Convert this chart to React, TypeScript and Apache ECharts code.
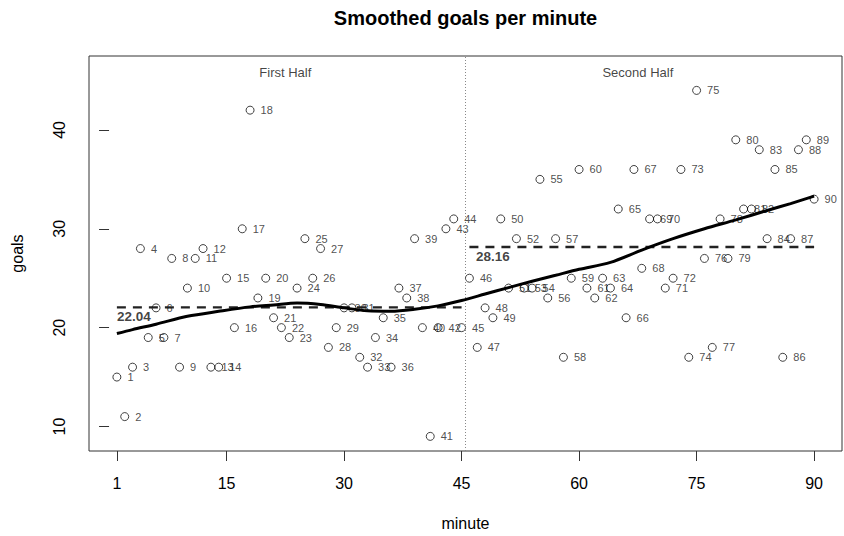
import { useEffect, useRef } from "react";
import * as echarts from "echarts";

// minute of play (x) and goals scored in that minute (y)
const minutes = [
  1, 2, 3, 4, 5, 6, 7, 8, 9, 10, 11, 12, 13, 14, 15, 16, 17, 18, 19, 20,
  21, 22, 23, 24, 25, 26, 27, 28, 29, 30, 31, 32, 33, 34, 35, 36, 37, 38, 39, 40,
  41, 42, 43, 44, 45, 46, 47, 48, 49, 50, 51, 52, 53, 54, 55, 56, 57, 58, 59, 60,
  61, 62, 63, 64, 65, 66, 67, 68, 69, 70, 71, 72, 73, 74, 75, 76, 77, 78, 79, 80,
  81, 82, 83, 84, 85, 86, 87, 88, 89, 90,
];
const goals = [
  15, 11, 16, 28, 19, 22, 19, 27, 16, 24, 27, 28, 16, 16, 25, 20, 30, 42, 23, 25,
  21, 20, 19, 24, 29, 25, 28, 18, 20, 22, 22, 17, 16, 19, 21, 16, 24, 23, 29, 20,
  9, 20, 30, 31, 20, 25, 18, 22, 21, 31, 24, 29, 24, 24, 35, 23, 29, 17, 25, 36,
  24, 23, 25, 24, 32, 21, 36, 26, 31, 31, 24, 25, 36, 17, 44, 27, 18, 31, 27, 39,
  32, 32, 38, 29, 36, 17, 29, 38, 39, 33,
];

// smoothed curve
const smoothMinutes = [1, 3, 6, 10, 14, 18, 21, 24, 27, 30, 33, 36, 39, 42, 45, 48, 51, 54, 57, 60, 64, 68, 72, 76, 80, 84, 87, 90];
const smoothGoals = [19.4, 19.8, 20.35, 21.15, 21.65, 22.1, 22.3, 22.5, 22.35, 22.0, 21.7, 21.65, 21.85, 22.2, 22.75, 23.4, 24.05, 24.7, 25.3, 25.9, 26.6, 27.85, 29.0, 30.0, 30.9, 31.85, 32.55, 33.3];

const xTicks = [1, 15, 30, 45, 60, 75, 90];
const yTicks = [10, 20, 30, 40];
const halfNames = ["First Half", "Second Half"];
const halfStart = [1, 46];
const halfEnd = [45, 90];
const halfBreak = 45.5;

const FONT = "'Liberation Sans', Arial, sans-serif";

export default function App() {
  const ref = useRef<HTMLDivElement>(null);

  useEffect(() => {
    if (!ref.current) return;
    const chart = echarts.init(ref.current, undefined, { renderer: "svg" });

    const xMin = -2.56, xMax = 93.56, yMin = 7.52, yMax = 47.48;

    const means = halfStart.map((s, i) => {
      const vals = goals.filter((_, k) => minutes[k] >= s && minutes[k] <= halfEnd[i]);
      return vals.reduce((a, b) => a + b, 0) / vals.length;
    });

    const points = minutes.map((m, i) => [m, goals[i]]);
    const smooth = smoothMinutes.map((m, i) => [m, smoothGoals[i]]);
    const halfMid = halfStart.map((s, i) => (s - 1 + halfEnd[i]) / 2);
    const meanLabelX = [1, 46.85];

    const option: any = {
      animation: false,
      backgroundColor: "#fff",
      textStyle: { fontFamily: FONT },
      grid: {
        left: 89, top: 56, width: 753, height: 396,
        show: true, borderColor: "#333", borderWidth: 1,
      },
      graphic: [
        {
          type: "text", x: 465.5, y: 18,
          style: {
            text: "Smoothed goals per minute", align: "center", verticalAlign: "middle",
            font: `bold 20px ${FONT}`, fill: "#000",
          },
        },
      ],
      xAxis: {
        type: "value", min: xMin, max: xMax,
        axisLine: { show: false },
        splitLine: { show: false },
        axisTick: { show: true, length: 10, lineStyle: { color: "#333" }, customValues: xTicks },
        axisLabel: { customValues: xTicks, fontSize: 16, margin: 24, color: "#000", fontFamily: FONT },
        name: "minute", nameLocation: "middle", nameGap: 64,
        nameTextStyle: { fontSize: 16, color: "#000", fontFamily: FONT },
      },
      yAxis: {
        type: "value", min: yMin, max: yMax,
        axisLine: { show: false },
        splitLine: { show: false },
        axisTick: { show: true, length: 10, lineStyle: { color: "#333" }, customValues: yTicks },
        axisLabel: { customValues: yTicks, fontSize: 16, margin: 22, rotate: 90, color: "#000", fontFamily: FONT },
        name: "goals", nameLocation: "middle", nameGap: 64, nameRotate: 90,
        nameTextStyle: { fontSize: 16, color: "#000", fontFamily: FONT },
      },
      series: [
        {
          type: "line", data: [[halfBreak, yMin], [halfBreak, yMax]],
          symbol: "none", silent: true,
          lineStyle: { color: "#888", width: 1, type: [1, 2] },
        },
        ...halfStart.map((s, i) => ({
          type: "line", data: [[s, means[i]], [halfEnd[i], means[i]]],
          symbol: "none", silent: true,
          lineStyle: { color: "#222", width: 2.3, type: [9, 7] },
        })),
        {
          type: "scatter", data: points, symbol: "circle", symbolSize: 8,
          itemStyle: { color: "rgba(0,0,0,0)", borderColor: "#111", borderWidth: 1 },
          label: {
            show: true, position: "right", distance: 6,
            formatter: (p: any) => String(p.data[0]),
            fontSize: 11, color: "#222", fontFamily: FONT,
          },
        },
        {
          type: "line", data: smooth, smooth: 0.3, symbol: "none",
          lineStyle: { color: "#000", width: 3 },
        },
        {
          type: "scatter", symbolSize: 0, silent: true,
          data: halfMid.map((m, i) => ({ value: [m, 45.8], name: halfNames[i] })),
          label: {
            show: true, position: "inside", formatter: (p: any) => p.name,
            fontSize: 13, color: "#111", fontFamily: FONT,
          },
        },
        {
          type: "scatter", symbolSize: 0, silent: true,
          data: means.map((v, i) => ({ value: [meanLabelX[i], v], name: v.toFixed(2) })),
          label: {
            show: true, position: "right", distance: 0, offset: [0, 9],
            formatter: (p: any) => p.name,
            fontSize: 13.5, fontWeight: "bold", color: "#111", fontFamily: FONT,
          },
        },
      ],
    };

    chart.setOption(option);
    return () => chart.dispose();
  }, []);

  return (
    <div
      ref={ref}
      style={{ position: "fixed", left: 0, top: 0, width: 844, height: 536, background: "#fff" }}
    />
  );
}
